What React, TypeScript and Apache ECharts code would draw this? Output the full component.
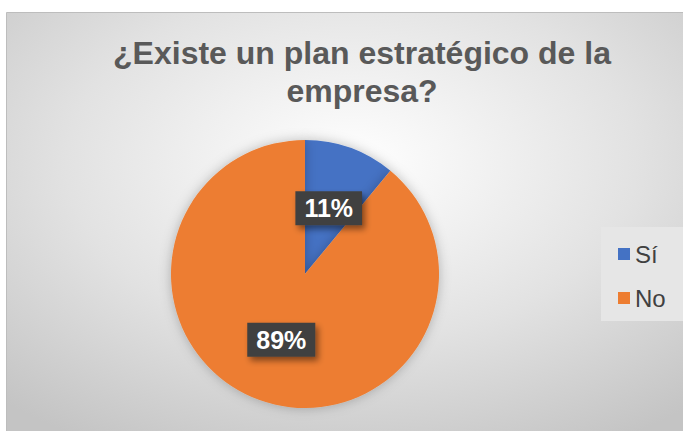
import React, { useEffect, useRef } from "react";
import * as echarts from "echarts";

const categories = ["Sí", "No"];
const values = [11, 89];
const colors = ["#4472C4", "#ED7D31"];
const titleLines = ["¿Existe un plan estratégico de la", "empresa?"];

export default function App() {
  const ref = useRef<HTMLDivElement>(null);
  useEffect(() => {
    if (!ref.current) return;
    const chart = echarts.init(ref.current, undefined, { renderer: "svg" });
    chart.setOption({
      animation: false,
      backgroundColor: "#ffffff",
      graphic: [
        {
          type: "rect",
          z: -10,
          shape: { x: 6.5, y: 12.5, width: 690, height: 430 },
          style: {
            fill: new echarts.graphic.RadialGradient(0.5, 0.35, 0.75, [
              { offset: 0, color: "#ffffff" },
              { offset: 0.55, color: "#e2e2e2" },
              { offset: 1, color: "#c4c4c4" },
            ]),
            stroke: "#bdbdbd",
            lineWidth: 1,
          },
        },
        {
          type: "rect",
          z: -5,
          shape: { x: 601, y: 227, width: 90, height: 94 },
          style: { fill: "#e6e6e6" },
        },
      ],
      title: {
        text: titleLines.join("\n"),
        left: 357,
        top: 29,
        textAlign: "center",
        textStyle: {
          fontFamily: "Liberation Sans, Arial, sans-serif",
          fontWeight: "bold",
          fontSize: 32,
          lineHeight: 38,
          color: "#595959",
        },
      },
      legend: {
        orient: "vertical",
        left: 613,
        top: 237,
        itemWidth: 12,
        itemHeight: 12,
        itemGap: 20,
        icon: "rect",
        data: categories,
        textStyle: {
          fontFamily: "Liberation Sans, Arial, sans-serif",
          fontSize: 24,
          color: "#404040",
          padding: [0, 0, 0, 0],
        },
      },
      series: [
        {
          type: "pie",
          center: [305, 274],
          radius: 134,
          startAngle: 90,
          clockwise: true,
          color: colors,
          itemStyle: {
            shadowBlur: 12,
            shadowColor: "rgba(0,0,0,0.25)",
          },
          label: {
            show: true,
            position: "inside",
            formatter: "{d}%",
            fontFamily: "Liberation Sans, Arial, sans-serif",
            fontWeight: "bold",
            fontSize: 25,
            color: "#ffffff",
            backgroundColor: "#404040",
            padding: [5, 9, 4, 9],
            shadowBlur: 6,
            shadowOffsetX: 3,
            shadowOffsetY: 4,
            shadowColor: "rgba(0,0,0,0.45)",
          },
          labelLine: { show: false },
          emphasis: { disabled: true },
          data: categories.map((name, i) => ({ name, value: values[i] })),
        },
      ],
    });
    return () => chart.dispose();
  }, []);
  return (
    <div
      ref={ref}
      style={{ position: "fixed", left: 0, top: 0, width: 683, height: 431 }}
    />
  );
}
